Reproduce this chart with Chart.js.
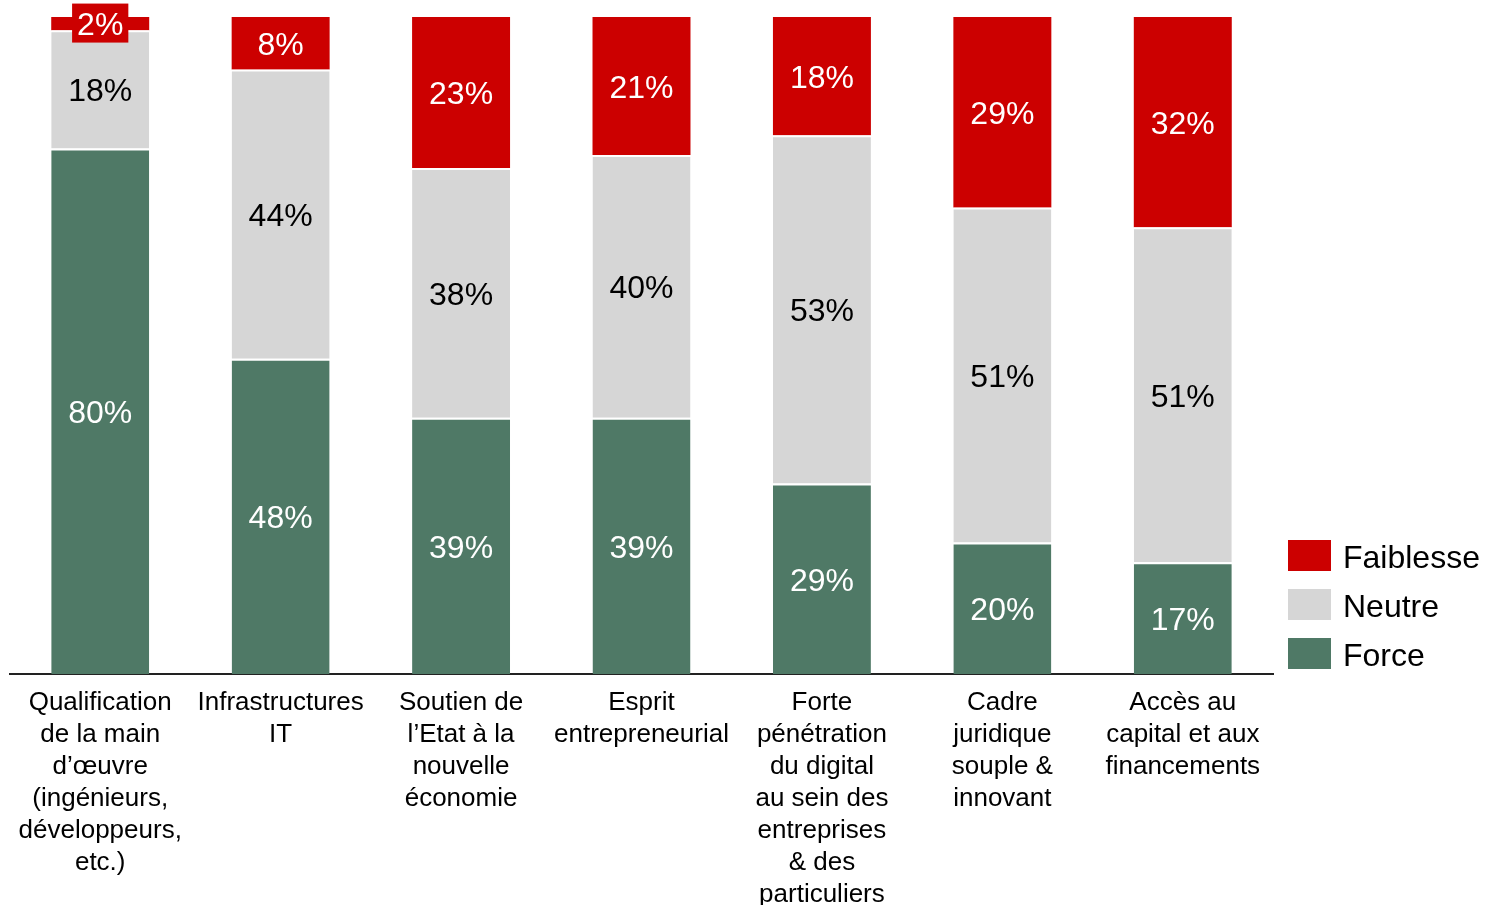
<!DOCTYPE html>
<html>
<head>
<meta charset="utf-8">
<script src="https://cdn.jsdelivr.net/npm/chart.js@4/dist/chart.umd.min.js"></script>
<style>
  html, body { margin: 0; padding: 0; background: #fff; }
  #wrap { width: 1501px; height: 905px; position: relative; }
</style>
</head>
<body>
<div id="wrap"><canvas id="c" width="1501" height="905"></canvas></div>
<script>
const categories = [
  ["Qualification","de la main","d’œuvre","(ingénieurs,","développeurs,","etc.)"],
  ["Infrastructures","IT"],
  ["Soutien de","l’Etat à la","nouvelle","économie"],
  ["Esprit","entrepreneurial"],
  ["Forte","pénétration","du digital","au sein des","entreprises","& des","particuliers"],
  ["Cadre","juridique","souple &","innovant"],
  ["Accès au","capital et aux","financements"]
];
const force = [80, 48, 39, 39, 29, 20, 17];
const neutre = [18, 44, 38, 40, 53, 51, 51];
const faiblesse = [2, 8, 23, 21, 18, 29, 32];

const COLORS = { force: '#4f7966', neutre: '#d6d6d6', faiblesse: '#cc0000' };
const FONT = '"Liberation Sans", Arial, sans-serif';

const labelPlugin = {
  id: 'segLabels',
  afterDatasetsDraw(chart) {
    const ctx = chart.ctx;
    ctx.save();
    ctx.font = '32px ' + FONT;
    ctx.textAlign = 'center';
    ctx.textBaseline = 'middle';
    chart.data.datasets.forEach((ds, di) => {
      const meta = chart.getDatasetMeta(di);
      meta.data.forEach((bar, i) => {
        const v = ds.data[i];
        const txt = v + '%';
        const cy = (bar.y + bar.base) / 2;
        const h = Math.abs(bar.base - bar.y);
        if (h < 36) {
          const w = ctx.measureText(txt).width + 10;
          ctx.fillStyle = ds.backgroundColor;
          ctx.fillRect(bar.x - w / 2, cy - 20, w, 39);
        }
        ctx.fillStyle = ds.labelColor;
        ctx.fillText(txt, bar.x, cy + 3);
      });
    });
    ctx.restore();
  }
};

const legendPlugin = {
  id: 'customLegend',
  afterDraw(chart) {
    const ctx = chart.ctx;
    ctx.save();
    ctx.font = '32px ' + FONT;
    ctx.textBaseline = 'middle';
    ctx.textAlign = 'left';
    const items = chart.data.datasets.slice().reverse();
    const y0 = 557, step = 49;
    items.forEach((ds, k) => {
      const cy = y0 + k * step;
      ctx.fillStyle = ds.backgroundColor;
      ctx.fillRect(1288, cy - 17, 43, 31);
      ctx.fillStyle = '#000';
      ctx.fillText(ds.label, 1343, cy + 2);
    });
    ctx.restore();
  }
};

new Chart(document.getElementById('c'), {
  type: 'bar',
  data: {
    labels: categories,
    datasets: [
      { label: 'Force', data: force, backgroundColor: COLORS.force, labelColor: '#fff',
        borderColor: '#fff', borderWidth: { top: 2, bottom: 0, left: 0, right: 0 }, borderSkipped: false },
      { label: 'Neutre', data: neutre, backgroundColor: COLORS.neutre, labelColor: '#000',
        borderColor: '#fff', borderWidth: { top: 2, bottom: 0, left: 0, right: 0 }, borderSkipped: false },
      { label: 'Faiblesse', data: faiblesse, backgroundColor: COLORS.faiblesse, labelColor: '#fff',
        borderWidth: 0 }
    ]
  },
  options: {
    responsive: false,
    animation: false,
    devicePixelRatio: 1,
    layout: { padding: { top: 17, left: 10, right: 228, bottom: 0 } },
    datasets: { bar: { categoryPercentage: 1, barPercentage: 0.543 } },
    plugins: { legend: { display: false }, tooltip: { enabled: false } },
    scales: {
      x: {
        stacked: true,
        grid: { display: false, drawTicks: false },
        border: { display: true, color: '#222', width: 2 },
        ticks: {
          color: '#000',
          font: { family: FONT, size: 26, lineHeight: 32 / 26 },
          padding: 13,
          maxRotation: 0,
          autoSkip: false
        },
        afterFit(scale) { scale.height = 231; }
      },
      y: {
        stacked: true,
        display: false,
        min: 0,
        max: 100
      }
    }
  },
  plugins: [labelPlugin, legendPlugin]
});
</script>
</body>
</html>
